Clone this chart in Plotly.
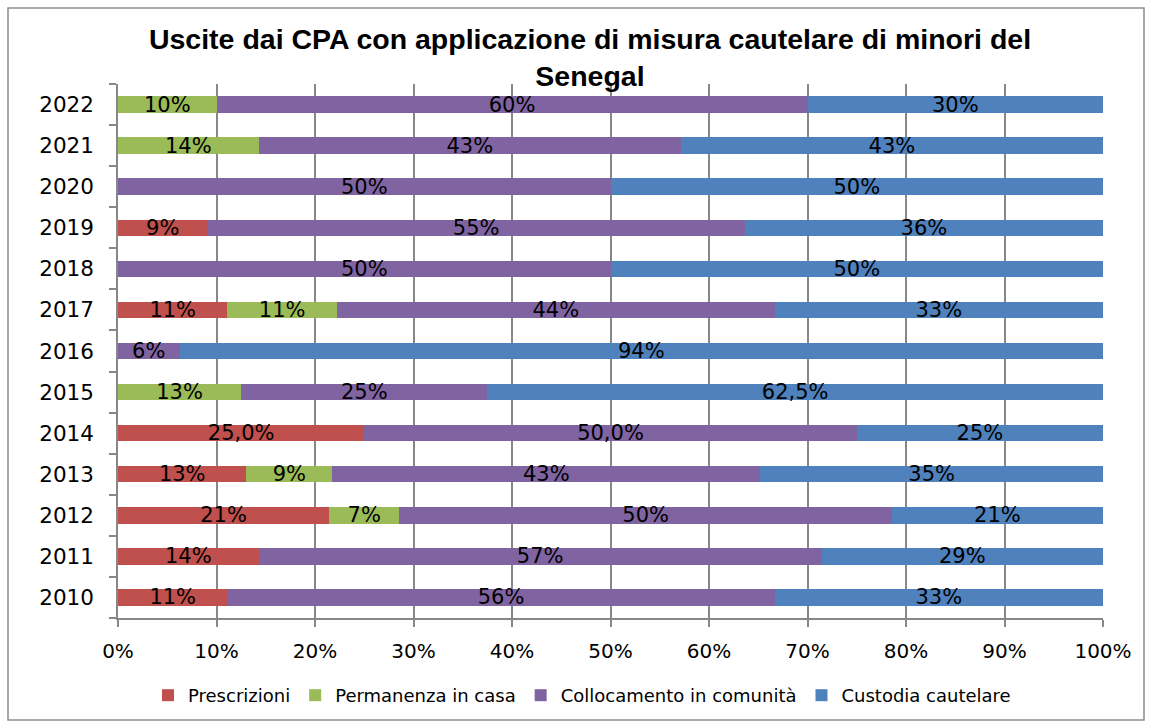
import plotly.graph_objects as go

years = ["2010", "2011", "2012", "2013", "2014", "2015", "2016", "2017", "2018", "2019", "2020", "2021", "2022"]

series_names = ["Prescrizioni", "Permanenza in casa", "Collocamento in comunità", "Custodia cautelare"]

prescrizioni = [1/9, 1/7, 3/14, 3/23, 0.25, 0, 0, 1/9, 0, 1/11, 0, 0, 0]
permanenza = [0, 0, 1/14, 2/23, 0, 0.125, 0, 1/9, 0, 0, 0, 1/7, 0.10]
collocamento = [5/9, 4/7, 7/14, 10/23, 0.50, 0.25, 1/16, 4/9, 0.5, 6/11, 0.5, 3/7, 0.60]
custodia = [3/9, 2/7, 3/14, 8/23, 0.25, 0.625, 15/16, 3/9, 0.5, 4/11, 0.5, 3/7, 0.30]

lbl_prescrizioni = ["11%", "14%", "21%", "13%", "25,0%", "", "", "11%", "", "9%", "", "", ""]
lbl_permanenza = ["", "", "7%", "9%", "", "13%", "", "11%", "", "", "", "14%", "10%"]
lbl_collocamento = ["56%", "57%", "50%", "43%", "50,0%", "25%", "6%", "44%", "50%", "55%", "50%", "43%", "60%"]
lbl_custodia = ["33%", "29%", "21%", "35%", "25%", "62,5%", "94%", "33%", "50%", "36%", "50%", "43%", "30%"]

colors = ["#C0504D", "#9BBB59", "#8064A2", "#4F81BD"]

values = [prescrizioni, permanenza, collocamento, custodia]
labels = [lbl_prescrizioni, lbl_permanenza, lbl_collocamento, lbl_custodia]

FONT = "DejaVu Sans"
TFONT = "Liberation Sans"

fig = go.Figure()
for name, vals, lbls, col in zip(series_names, values, labels, colors):
    fig.add_trace(go.Bar(
        y=years, x=vals, name=name, orientation="h",
        marker=dict(color=col, line=dict(width=0)),
        text=lbls, textposition="inside", insidetextanchor="middle",
        textfont=dict(family=FONT, size=21, color="#000000"),
        constraintext="none", cliponaxis=False,
        hoverinfo="skip",
    ))

W, H = 1149, 724
L, R, T, B = 118, 46, 84, 106
pw = W - L - R
ph = H - T - B

def px_x(p):
    return (p - L) / pw

def px_y(p):
    return (H - B - p) / ph

fig.update_layout(
    width=W, height=H,
    barmode="stack",
    bargap=0.6,
    margin=dict(l=L, r=R, t=T, b=B, autoexpand=False),
    paper_bgcolor="white", plot_bgcolor="white",
    font=dict(family=FONT, color="#000000"),
    uniformtext=dict(minsize=21, mode="show"),
    title=dict(
        text="<b>Uscite dai CPA con applicazione di misura cautelare di minori del<br>Senegal</b>",
        x=590 / W, xanchor="center", y=1 - 49 / H, yanchor="top",
        font=dict(family=TFONT, size=28.5, color="#000000"),
    ),
    xaxis=dict(
        range=[0, 1], tickformat=".0%", dtick=0.1, tick0=0,
        showgrid=True, gridcolor="#878787", gridwidth=1.5,
        showline=True, linecolor="#878787", linewidth=1.5,
        ticks="outside", ticklen=7, tickcolor="#878787", tickwidth=1.5,
        ticklabelstandoff=7,
        tickfont=dict(family=FONT, size=20, color="#000000"),
        zeroline=False, fixedrange=True,
    ),
    yaxis=dict(
        type="category", categoryorder="array", categoryarray=years,
        showline=True, linecolor="#878787", linewidth=1.5,
        ticks="outside", ticklen=7, tickcolor="#878787", tickwidth=1.5,
        tickson="boundaries", ticklabelstandoff=18,
        tickfont=dict(family=FONT, size=21.5, color="#000000"),
        showgrid=False, fixedrange=True,
    ),
    legend=dict(
        orientation="h", x=px_x(582), xanchor="center",
        y=px_y(677), yanchor="top",
        font=dict(family=FONT, size=18, color="#000000"),
        traceorder="normal", itemwidth=30, itemclick=False,
        bgcolor="rgba(0,0,0,0)",
    ),
    showlegend=True,
)

fig.add_shape(
    type="rect", xref="paper", yref="paper",
    x0=px_x(8), x1=px_x(1144), y0=px_y(720), y1=px_y(8),
    line=dict(color="#8C8C8C", width=1.5), fillcolor="rgba(0,0,0,0)", layer="below",
)

fig.write_html("out.html", config={"displayModeBar": False},
               post_script="document.body.style.margin='0';")
